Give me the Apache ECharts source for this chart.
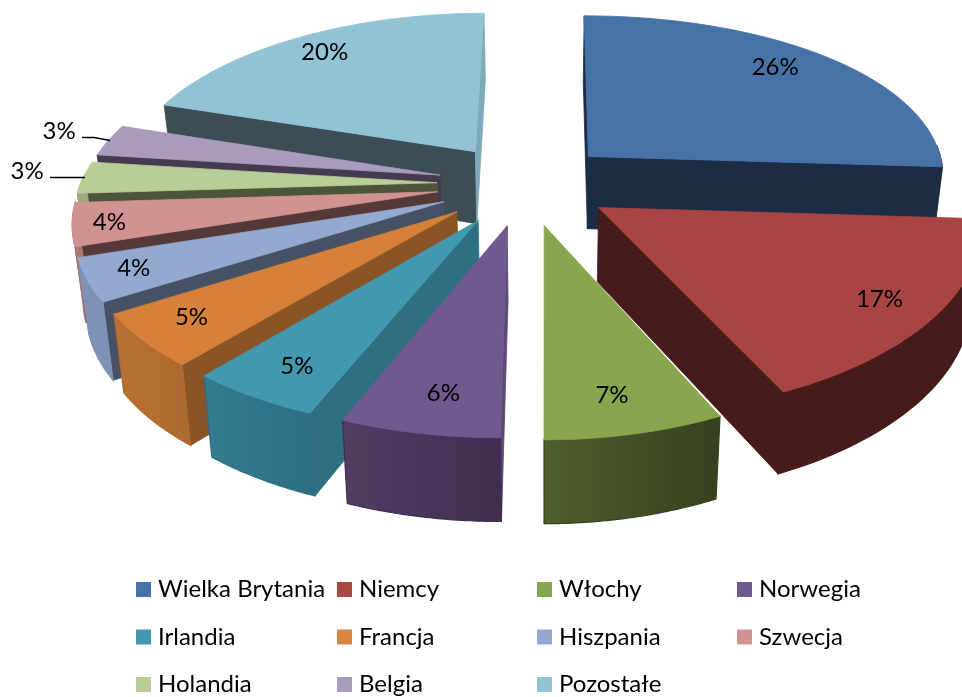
<!DOCTYPE html>
<html><head><meta charset="utf-8">
<style>html,body{margin:0;padding:0;background:#fff}#c{width:962px;height:697px}</style>
<script src="https://cdn.jsdelivr.net/npm/echarts@6/dist/echarts.min.js"></script></head>
<body><div id="c"></div>
<script>
const categories = ['Wielka Brytania','Niemcy','Włochy','Norwegia','Irlandia','Francja','Hiszpania','Szwecja','Holandia','Belgia','Pozostałe'];
const values = [26,17,7,6,5,5,4,4,3,3,20];
const legendColumns = [['Wielka Brytania','Irlandia','Holandia'],['Niemcy','Francja','Belgia'],['Włochy','Hiszpania','Pozostałe'],['Norwegia','Szwecja']];

const topColors = ['#4672A8','#A84444','#89A54E','#71588F','#4198AF','#D68039','#93A9CF','#D19392','#B9CD96','#A99BBD','#91C3D5'];
const legendColors = ['#4572A7','#AA4643','#89A54E','#71588F','#4198AF','#DB843D','#93A9CE','#D19392','#B9CD96','#A99BBD','#91C3D5'];
const startWallColors = ['#1B2C44','#461B1A','#37401F','#5D4876','#2F6F82','#895426','#475166','#553938','#4C553A','#443B51','#3C4D55'];
const endWallColors = ['#1B2C44','#461B1A','#37401F','#3F2D52','#2F6F82','#895426','#475166','#553938','#4C553A','#443B51','#7DA9BA'];
const curveFrom = ['#1B2C44','#461B1A','#4F5E2C','#523D63','#347C91','#BA7132','#7E92B5','#A87878','#9AAA7C','#8C80A0','#6F98A8'];
const curveTo = ['#1B2C44','#461B1A','#37401F','#3F2D52','#2D6E82','#AC6A2E','#7E92B5','#A87878','#9AAA7C','#8C80A0','#6F98A8'];
const widthScale = [0.99,1.03,1,0.985,0.985,0.985,0.985,0.985,0.985,0.985,0.98];
const depthScale = [1,1,1,0.99,0.99,0.99,0.99,0.99,0.99,0.99,0.99];
const labelNudge = [[-16,-3],[-3,1],[-8,-3],[9,-4],[6,-1],[-3,-2],[-10,0],[-19,3],[-2,0],[-2,1],[0,0]];
const outsideLabel = {8:[-56,-6],9:[-49,-10]};

// projection of the tilted pie plane
const CFG = {cx:525, cy:184, vx:545, R:362, explode:88, k:0.467, u:0.000408, ux:0.0003, drop:75, zShrink:0.977};
function project(X, Y, bottom) {
  const f = bottom ? CFG.zShrink : 1;
  const dx = X - (CFG.vx - CFG.cx);
  const s = f / (1 - CFG.u * Y), sx = f / (1 - (dx < 0 ? CFG.u : CFG.ux) * Y);
  return [CFG.vx + dx * sx, CFG.cy + (CFG.k * Y + (bottom ? CFG.drop : 0)) * s];
}
const total = values.reduce((a, b) => a + b, 0);
const spans = []; let acc = 0;
values.forEach(v => { spans.push([acc / total * 2 * Math.PI, (acc + v) / total * 2 * Math.PI]); acc += v; });
const rank = values.map((v, i) => i).sort((a, b) => Math.cos((spans[b][0]+spans[b][1])/2) - Math.cos((spans[a][0]+spans[a][1])/2));
const order = []; rank.forEach((idx, pos) => { order[idx] = pos; });

function area(p) { let a = 0; p.forEach((q, i) => { const n = p[(i + 1) % p.length]; a += q[0]*n[1] - n[0]*q[1]; }); return a / 2; }

function render(i, value) {
  const [a0, a1] = spans[i];
  const m = (a0 + a1) / 2;
  const ox = CFG.explode * Math.sin(m), oy = -CFG.explode * Math.cos(m);
  const plane = (a, r) => [ox + r * CFG.R * widthScale[i] * Math.sin(a), oy - r * CFG.R * depthScale[i] * Math.cos(a)];
  const pt = (a, r, b) => { const q = plane(a, r); return project(q[0], q[1], b); };
  const z = order[i] * 10 + 10;
  const els = [];
  const poly = (points, fill, z2, stroke, lw) => els.push({type:'polygon', z2, shape:{points}, style:{fill, stroke:stroke || fill, lineWidth:lw || 0.8}});
  // radial walls, only the ones facing the viewer
  [[a0, 1, startWallColors[i]], [a1, -1, endWallColors[i]]].forEach(([a, dir, color]) => {
    const w = [pt(a,0,false), pt(a,1,false), pt(a,1,true), pt(a,0,true)];
    if (area(w) * dir < 0) poly(w, color, z);
  });
  // curved outer wall
  const steps = 40; let top = [], bot = [];
  for (let n = 0; n <= steps; n++) {
    const a = a0 + (a1 - a0) * n / steps;
    const next = a0 + (a1 - a0) * Math.min(n + 1, steps) / steps;
    if (Math.cos(a) < 0.05 || Math.cos(next) < 0.05) { top.push(pt(a,1,false)); bot.push(pt(a,1,true)); }
  }
  if (top.length > 1) {
    const pts = top.concat(bot.slice().reverse());
    const xs = pts.map(p => p[0]);
    const x0 = Math.min(...xs), x1 = Math.max(...xs);
    poly(pts, new echarts.graphic.LinearGradient(x0, 0, x1, 0, [{offset:0,color:curveFrom[i]},{offset:1,color:curveTo[i]}], true), z + 1, curveTo[i], 1.2);
  }
  // top face
  const face = [pt(a0,0,false)];
  for (let n = 0; n <= steps; n++) face.push(pt(a0 + (a1 - a0) * n / steps, 1, false));
  poly(face, topColors[i], z + 2);
  // percentage label
  const off = outsideLabel[i];
  const end = pt(m, 0.995, false);
  let lp = off ? [end[0] + off[0], end[1] + off[1]] : pt(m, 0.85, false);
  lp = [lp[0] + labelNudge[i][0], lp[1] + labelNudge[i][1]];
  els.push({type:'text', z2:2000, style:{x:lp[0], y:lp[1], text:Math.round(value/total*100)+'%', fill:'#000', font:'24px Lato', align:'center', verticalAlign:'middle'}});
  if (off) {
    const sx = lp[0] + 23, sy = lp[1] + 6;
    els.push({type:'polyline', z2:2000, shape:{points:[[sx,sy],[sx+12,sy],end]}, style:{fill:null, stroke:'#000', lineWidth:1.6}});
  }
  return {type:'group', children:els};
}

const series = categories.map((name, i) => ({
  type:'custom', name, coordinateSystem:'none', silent:true, animation:false,
  itemStyle:{color:legendColors[i]},
  data:[[values[i]]],
  encode:{value:0},
  renderItem:(params, api) => render(i, api.value(0))
}));
const legendX = [136,337,537,737];
const legend = legendColumns.map((data, c) => ({
  data, left:legendX[c], top:577.5, orient:'vertical', padding:0, itemWidth:15, itemHeight:15, itemGap:23.5, icon:'rect', selectedMode:false,
  textStyle:{fontFamily:'Lato', fontSize:24, lineHeight:24, height:24, color:'#000', padding:[0,0,0,2]}
}));
echarts.init(document.getElementById('c'),null,{renderer:'canvas'}).setOption({animation:false, backgroundColor:'#fff', legend, series});
</script></body></html>
